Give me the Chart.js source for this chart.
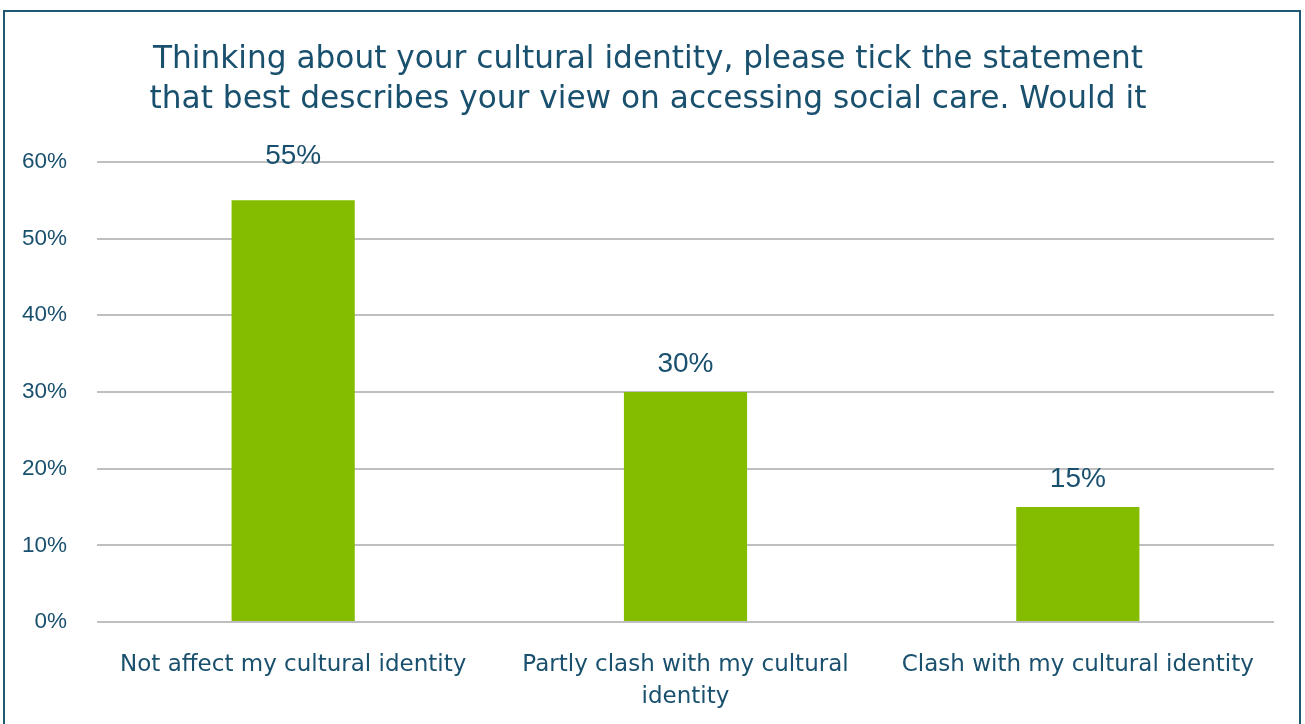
<!DOCTYPE html>
<html>
<head>
<meta charset="utf-8">
<script src="https://cdn.jsdelivr.net/npm/chart.js@4.4.1/dist/chart.umd.min.js"></script>
<style>
  html, body { margin: 0; padding: 0; background: #ffffff; }
  #wrap { position: relative; width: 1305px; height: 724px; overflow: hidden; }
  #frame { position: absolute; left: 3px; top: 10px; width: 1298px; height: 800px; border: 2px solid #1F5A75; box-sizing: border-box; }
  canvas { position: absolute; left: 0; top: 0; }
</style>
</head>
<body>
<div id="wrap">
  <div id="frame"></div>
  <canvas id="c" width="1305" height="724"></canvas>
</div>
<script>
const titleLines = [
  "Thinking about your cultural identity, please tick the statement",
  "that best describes your view on accessing social care. Would it"
];
const categories = [
  ["Not affect my cultural identity"],
  ["Partly clash with my cultural", "identity"],
  ["Clash with my cultural identity"]
];
const values = [55, 30, 15];
const yTicks = [0, 10, 20, 30, 40, 50, 60];

const textColor = "#19506E";
const FONT = "'DejaVu Sans', sans-serif";
const NUMFONT = "'Liberation Sans', Arial, sans-serif";
const labelLift = [36, 20, 20]; // px gap between bar top and label baseline

const labelPlugin = {
  id: "valueLabels",
  afterDatasetsDraw(chart) {
    const ctx = chart.ctx;
    const meta = chart.getDatasetMeta(0);
    ctx.save();
    ctx.fillStyle = textColor;
    ctx.font = "28px " + NUMFONT;
    ctx.textAlign = "center";
    ctx.textBaseline = "alphabetic";
    meta.data.forEach((bar, i) => {
      ctx.fillText(values[i] + "%", bar.x, bar.y - labelLift[i]);
    });
    ctx.restore();
  }
};

new Chart(document.getElementById("c"), {
  type: "bar",
  data: {
    labels: categories,
    datasets: [{
      data: values,
      backgroundColor: "#84BD00",
      borderWidth: 0,
      categoryPercentage: 1,
      barPercentage: 0.314
    }]
  },
  options: {
    responsive: false,
    animation: false,
    layout: { padding: { left: 22, right: 31, top: 0, bottom: 0 } },
    plugins: {
      legend: { display: false },
      tooltip: { enabled: false },
      title: {
        display: true,
        text: titleLines,
        color: textColor,
        font: { family: FONT, size: 31.2, weight: "normal", lineHeight: 1.28 },
        padding: { top: 40, bottom: 42 }
      }
    },
    scales: {
      x: {
        grid: { display: false, drawTicks: false },
        border: { display: false },
        ticks: {
          color: textColor,
          font: { family: FONT, size: 23, lineHeight: 1.4 },
          padding: 27,
          maxRotation: 0,
          autoSkip: false
        },
        afterFit(scale) { scale.height = 102; }
      },
      y: {
        min: 0,
        max: 60,
        afterBuildTicks(scale) { scale.ticks = yTicks.map(v => ({ value: v })); },
        afterFit(scale) { scale.width = 75; },
        grid: { color: "#BFBFBF", lineWidth: 2, drawTicks: false },
        border: { display: false },
        ticks: {
          color: textColor,
          font: { family: NUMFONT, size: 22.5 },
          padding: 30,
          callback: v => v + "%"
        }
      }
    }
  },
  plugins: [labelPlugin]
});
</script>
</body>
</html>
